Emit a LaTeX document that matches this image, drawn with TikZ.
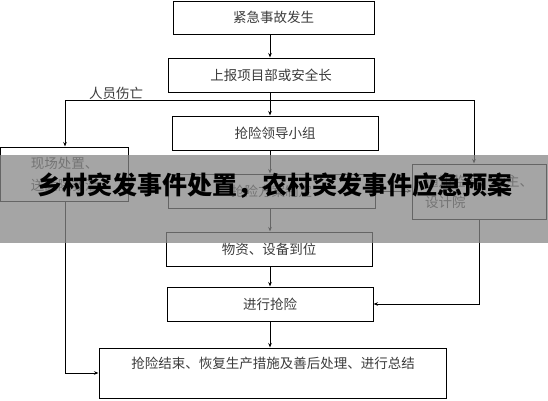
\documentclass[tikz,border=0pt]{standalone}
\usepackage{fontspec}
\newfontfamily\cjk{Noto Sans CJK SC}
\usetikzlibrary{arrows.meta}
\definecolor{txtgray}{RGB}{60,60,60}
\definecolor{bannergray}{RGB}{135,135,135}
\tikzset{
  box/.style={draw=black, line width=1pt, rectangle, inner sep=0pt, font=\cjk\fontsize{13.5}{16}\selectfont, text=txtgray},
  arr/.style={draw=black, line width=0.9pt, -{Stealth[length=4.5pt,width=3.5pt]}},
  ln/.style={draw=black, line width=0.9pt},
  lbl/.style={font=\cjk\fontsize{13.5}{16}\selectfont, text=txtgray, inner sep=0pt},
  banner/.style={font=\cjk\bfseries\fontsize{25}{28}\selectfont, text=black, inner sep=0pt}
}
\begin{document}
\begin{tikzpicture}[x=1pt,y=-1pt]
\useasboundingbox (0,0) rectangle (548,400);
\fill[white] (0,0) rectangle (548,400);
% main boxes
\node[box, minimum width=201pt, minimum height=33pt] (b1) at (273.5,17.5) {紧急事故发生};
\node[box, minimum width=206pt, minimum height=34pt] (b2) at (271,75) {上报项目部或安全长};
\node[box, minimum width=206pt, minimum height=34pt] (b3) at (275,133) {抢险领导小组};
\node[box, minimum width=207pt, minimum height=34pt] (b4) at (271.5,191) {抢险方案制定};
\node[box, minimum width=206pt, minimum height=34pt] (b5) at (269,249) {物资、设备到位};
\node[box, minimum width=206pt, minimum height=34pt] (b6) at (270,304) {进行抢险};
\node[box, minimum width=347pt, minimum height=50pt] (b7) at (272.5,373) {};
\node[lbl] (t7) at (273,363) {抢险结束、恢复生产措施及善后处理、进行总结};
% side boxes
\node[box, minimum width=128pt, minimum height=54pt, align=left, font=\cjk\fontsize{13.5}{22}\selectfont] (lb) at (64.5,174) {现场处置、\\送医院救治};
\node[box, minimum width=134pt, minimum height=55pt, align=left, font=\cjk\fontsize{13.5}{21}\selectfont] (rb) at (479,191.5) {通知监理、业主、\\设计院};
% label
\node[lbl] (lab) at (116,93) {人员伤亡};
% spine
\coordinate (sp) at (270,0);
\coordinate (jl) at (65,100);
\coordinate (jr) at (474,100);
\draw[arr] (b1.south -| sp) -- (b2.north -| sp);
\draw[arr] (b2.south -| sp) -- (b3.north -| sp);
\draw[arr] (b3.south -| sp) -- (b4.north -| sp);
\draw[arr] (b4.south -| sp) -- (b5.north -| sp);
\draw[arr] (b5.south -| sp) -- (b6.north -| sp);
\draw[arr] (b6.south -| sp) -- (b7.north -| sp);
% branch
\draw[ln] (jl) -- (jr);
\draw[arr] (jl) -- (lb.north -| jl);
\draw[arr] (jr) -- (rb.north -| jr);
\draw[arr] (lb.south -| jl) |- (b7.west);
\draw[arr] (rb.south) |- (b6.east);
\draw[arr] (b4.east) -- (b4.east -| rb.west);
% banner overlay
\fill[bannergray, opacity=0.75] (0,155) rectangle (548,243);
\node[banner] (bt) at (275,186) {乡村突发事件处置，农村突发事件应急预案};
\end{tikzpicture}
\end{document}
